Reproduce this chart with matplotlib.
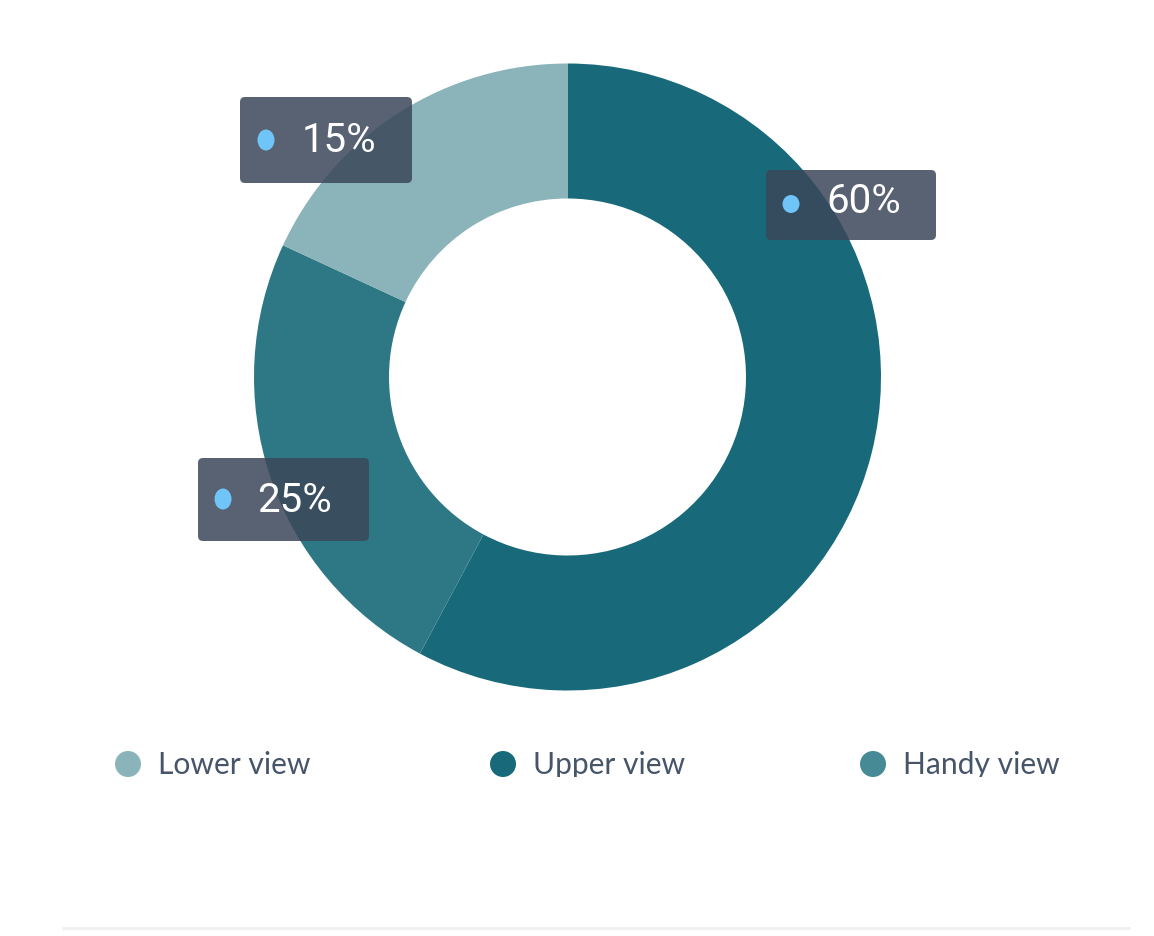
import matplotlib
matplotlib.use("Agg")
import matplotlib.pyplot as plt
from matplotlib.patches import FancyBboxPatch, Ellipse, Circle
from matplotlib.transforms import Bbox

# ---- data ----
slice_names = ["Upper view", "Handy view", "Lower view"]   # clockwise from top
slice_values = [57.8, 24.1, 18.1]                          # arc shares as drawn
slice_colors = ["#186A7A", "#2E7886", "#8AB3BA"]

legend_names = ["Lower view", "Upper view", "Handy view"]
legend_colors = ["#8AB3BA", "#186A7A", "#458A94"]

label_texts = ["15%", "60%", "25%"]

W, H = 1154, 936
fig = plt.figure(figsize=(W / 100, H / 100), dpi=100)
ax = fig.add_axes([0, 0, 1, 1])

def Y(py):
    return H - py

cx, cy = 567.5, 377
R_out, R_in = 313.5, 178.5

ax.pie(slice_values, colors=slice_colors, startangle=90, counterclock=False,
       radius=R_out, center=(cx, Y(cy)),
       wedgeprops=dict(width=R_out - R_in, edgecolor="none", linewidth=0))

ax.set_xlim(0, W)
ax.set_ylim(0, H)
ax.set_aspect("auto")
ax.axis("off")

# ---- value labels (tooltip-like boxes) ----
boxes = [
    # x0, x1, y0(px), y1(px), dot cx, dot cy, dot w, dot h, text x, baseline y
    (240, 412, 97, 183, 266, 140, 17, 21, 302, 152),
    (766, 936, 170, 240, 791, 204, 17, 18, 826, 213),
    (198, 369, 458, 541, 223, 499, 17, 21, 257, 512),
]
for (x0, x1, y0, y1, dx, dy, dw, dh, tx, ty), txt in zip(boxes, label_texts):
    ax.add_patch(FancyBboxPatch((x0, Y(y1)), x1 - x0, y1 - y0,
                                boxstyle="round,pad=0,rounding_size=5",
                                facecolor="#3B4759", edgecolor="none",
                                alpha=0.85, zorder=5))
    ax.add_patch(Ellipse((dx, Y(dy)), dw, dh, facecolor="#6FC5F7",
                         edgecolor="none", zorder=6))
    ax.text(tx, Y(ty), txt, color="white", fontsize=29, family="Roboto",
            ha="left", va="baseline", zorder=7)

# ---- legend ----
leg_circle_x = [128, 503, 873]
leg_text_x = [158, 533, 903]
leg_y = 764
clip = Bbox([[0, H - 777], [W, H]])
for name, col, lx, tx in zip(legend_names, legend_colors, leg_circle_x, leg_text_x):
    ax.add_patch(Circle((lx, Y(leg_y)), 13, facecolor=col, edgecolor="none"))
    t = ax.text(tx, Y(774), name, color="#475569", fontsize=21.6, family="Lato",
                ha="left", va="baseline")
    t.set_clip_box(clip)
    t.set_clip_on(True)

# ---- bottom rule ----
ax.plot([62, 1130], [Y(928), Y(928)], color="#F0F0F0", linewidth=2.2,
        solid_capstyle="butt")

fig.savefig("out.png", dpi=100, facecolor="white")
